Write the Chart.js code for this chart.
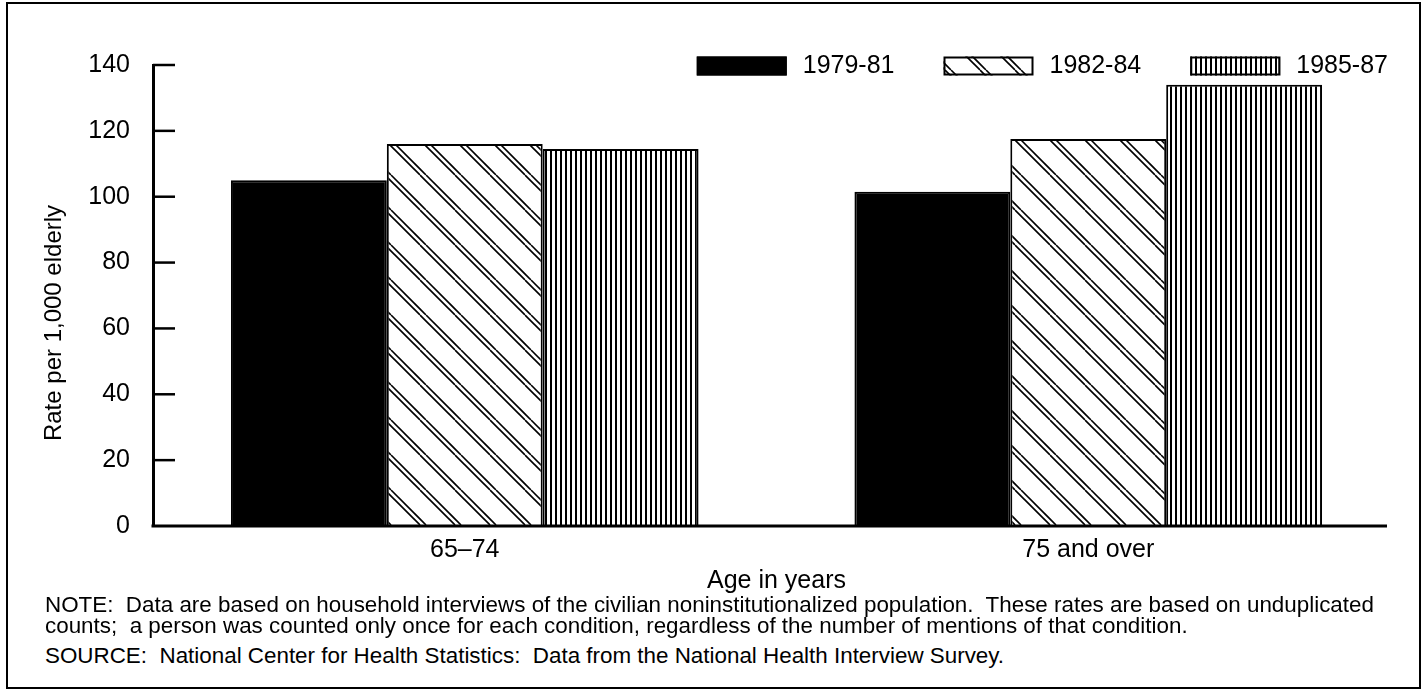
<!DOCTYPE html>
<html>
<head>
<meta charset="utf-8">
<script src="https://cdn.jsdelivr.net/npm/chart.js@4.4.0/dist/chart.umd.min.js"></script>
<style>
  body { margin: 0; background: #fff; font-family: "Liberation Sans", Arial, sans-serif; }
  #frame { position: absolute; left: 6px; top: 2px; width: 1411px; height: 683px; border: 2px solid #000; }
  #wrap { position: absolute; left: 0; top: 0; width: 1424px; height: 605px; }
  .note { position: absolute; left: 45px; font-size: 22.4px; line-height: 21px; color: #000; white-space: nowrap; }
</style>
</head>
<body>
<div id="frame"></div>
<div id="wrap"><canvas id="chart" width="1424" height="605"></canvas></div>
<div class="note" style="top:594px">NOTE:&nbsp; Data are based on household interviews of the civilian noninstitutionalized population.&nbsp; These rates are based on unduplicated<br>counts;&nbsp; a person was counted only once for each condition, regardless of the number of mentions of that condition.</div>
<div class="note" style="top:645px">SOURCE:&nbsp; National Center for Health Statistics:&nbsp; Data from the National Health Interview Survey.</div>

<script>
// data
const ageGroups = ['65\u201374', '75 and over'];
const periods = ['1979-81', '1982-84', '1985-87'];
const rates1979 = [105, 101.5];
const rates1982 = [116, 117.5];
const rates1985 = [114.5, 134];
const yTicks = [0, 20, 40, 60, 80, 100, 120, 140];

const FONT = '"Liberation Sans", Arial, sans-serif';

// fill patterns
function hatchPattern() {
  const s = 35;
  const c = document.createElement('canvas');
  c.width = s; c.height = s;
  const g = c.getContext('2d');
  g.fillStyle = '#fff';
  g.fillRect(0, 0, s, s);
  g.strokeStyle = '#000';
  g.lineWidth = 1.6;
  for (const d of [0, 6]) {
    for (let k = -1; k <= 1; k++) {
      g.beginPath();
      g.moveTo(k * s + d, 0);
      g.lineTo(k * s + d + s, s);
      g.stroke();
    }
  }
  return g.createPattern(c, 'repeat');
}
function stripePattern() {
  const c = document.createElement('canvas');
  c.width = 5; c.height = 5;
  const g = c.getContext('2d');
  g.fillStyle = '#fff';
  g.fillRect(0, 0, 5, 5);
  g.fillStyle = '#000';
  g.fillRect(0, 0, 2, 5);
  return g.createPattern(c, 'repeat');
}

const fills = ['#000', hatchPattern(), stripePattern()];

// legend, axis line, inward ticks and y title drawn by hand
const extras = {
  id: 'extras',
  afterDraw(chart) {
    const ctx = chart.ctx;
    const area = chart.chartArea;
    const y = chart.scales.y;
    ctx.save();
    ctx.strokeStyle = '#000';
    ctx.lineWidth = 3;
    ctx.beginPath();
    ctx.moveTo(area.left - 1.5, area.bottom);
    ctx.lineTo(area.right - 13, area.bottom);
    ctx.stroke();
    ctx.lineWidth = 2.5;
    yTicks.forEach(v => {
      if (v === 0) return;
      const py = y.getPixelForValue(v);
      ctx.beginPath();
      ctx.moveTo(area.left, py);
      ctx.lineTo(area.left + 22, py);
      ctx.stroke();
    });

    // y title
    ctx.fillStyle = '#000';
    ctx.font = '24px ' + FONT;
    ctx.textAlign = 'center';
    ctx.textBaseline = 'middle';
    ctx.translate(54, 323);
    ctx.rotate(-Math.PI / 2);
    ctx.fillText('Rate per 1,000 elderly', 0, 0);
    ctx.restore();

    // legend
    ctx.save();
    ctx.font = '25px ' + FONT;
    ctx.textBaseline = 'middle';
    ctx.textAlign = 'left';
    const boxW = 90, boxH = 19, gapText = 16, gapItem = 49;
    const ly = 66;
    let x = area.right - 12;
    const items = chart.data.datasets.map(ds => ({ ds, w: ctx.measureText(ds.label).width })).reverse();
    items.forEach(it => {
      x -= it.w;
      ctx.fillStyle = '#000';
      ctx.fillText(it.ds.label, x, ly);
      x -= gapText + boxW;
      ctx.fillStyle = it.ds.backgroundColor;
      ctx.fillRect(x, ly - boxH / 2, boxW, boxH);
      ctx.lineWidth = 2;
      ctx.strokeStyle = '#000';
      ctx.strokeRect(x + 1, ly - boxH / 2 + 1, boxW - 2, boxH - 2);
      x -= gapItem;
    });
    ctx.restore();
  }
};

const chart = new Chart(document.getElementById('chart'), {
  type: 'bar',
  data: {
    labels: ageGroups,
    datasets: [
      { label: periods[0], data: rates1979, backgroundColor: fills[0] },
      { label: periods[1], data: rates1982, backgroundColor: fills[1] },
      { label: periods[2], data: rates1985, backgroundColor: fills[2] }
    ]
  },
  options: {
    responsive: false,
    animation: false,
    layout: { padding: { left: 5, top: 65, right: 24, bottom: 11 } },
    datasets: {
      bar: { borderColor: '#000', borderWidth: 2, categoryPercentage: 0.75, barPercentage: 1.0 }
    },
    plugins: { legend: { display: false }, tooltip: { enabled: false } },
    scales: {
      x: {
        grid: { display: false },
        border: { display: false },
        ticks: { color: '#000', font: { family: FONT, size: 25 }, padding: 1 },
        title: { display: true, text: 'Age in years', color: '#000', font: { family: FONT, size: 25, lineHeight: 1.0 }, padding: { top: 3, bottom: 0 } }
      },
      y: {
        min: 0, max: 140,
        afterFit(s) { s.width = 148; },
        grid: { display: false, drawTicks: false },
        border: { display: true, color: '#000', width: 3 },
        ticks: { stepSize: 20, color: '#000', font: { family: FONT, size: 25 }, padding: 23 }
      }
    }
  },
  plugins: [extras]
});
</script>
</body>
</html>
